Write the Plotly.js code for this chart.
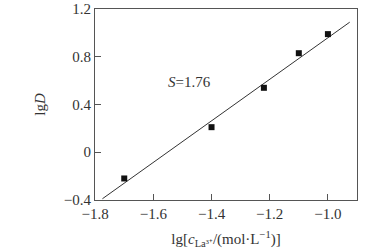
<!DOCTYPE html>
<html><head><meta charset="utf-8">
<script src="https://cdn.plot.ly/plotly-3.0.1.min.js"></script>
<style>html,body{margin:0;padding:0;background:#fff}#c{width:374px;height:252px}</style>
</head><body><div id="c"></div>
<script>
var pointX = [-1.70, -1.40, -1.22, -1.10, -1.00];
var pointY = [-0.22, 0.21, 0.54, 0.83, 0.99];
var fitX = [-1.775, -0.925];
var fitY = [-0.39, 1.09];
var xTickVals = [-1.8, -1.6, -1.4, -1.2, -1.0];
var xTickText = ["\u22121.8", "\u22121.6", "\u22121.4", "\u22121.2", "\u22121.0"];
var yTickVals = [-0.4, 0, 0.4, 0.8, 1.2];
var yTickText = ["\u22120.4", "0", "0.4", "0.8", "1.2"];
var slopeLabel = "<i>S</i>=1.76";

var font = {family: "Liberation Serif, Times New Roman, serif", size: 15, color: "#333"};
var axisCommon = {showgrid: false, zeroline: false, showline: true, mirror: true,
  linecolor: "#555", linewidth: 1, ticks: "inside", ticklen: 6, tickcolor: "#555",
  tickfont: font, tickmode: "array", ticklabeloverflow: "allow"};

Plotly.newPlot("c", [
  {x: fitX, y: fitY, mode: "lines", line: {color: "#333", width: 1}, showlegend: false},
  {x: pointX, y: pointY, mode: "markers", marker: {symbol: "square", size: 6, color: "#111"}, showlegend: false}
], {
  width: 374, height: 252,
  margin: {l: 95, r: 17, t: 9, b: 52, autoexpand: false},
  paper_bgcolor: "#fff", plot_bgcolor: "#fff",
  font: font,
  xaxis: Object.assign({}, axisCommon, {range: [-1.8005, -0.9], tickvals: xTickVals, ticktext: xTickText,
    title: {text: "lg[<i>c</i><sub>La³⁺</sub>/(mol·L<sup>−1</sup>)]", font: font, standoff: 12}}),
  yaxis: Object.assign({}, axisCommon, {range: [-0.4005, 1.2005], tickvals: yTickVals, ticktext: yTickText,
    title: {text: "lg<i>D</i>", font: font, standoff: 14}}),
  annotations: [{x: -1.477, y: 0.59, xref: "x", yref: "y", text: slopeLabel, showarrow: false, font: font}]
}, {staticPlot: true});
</script></body></html>
